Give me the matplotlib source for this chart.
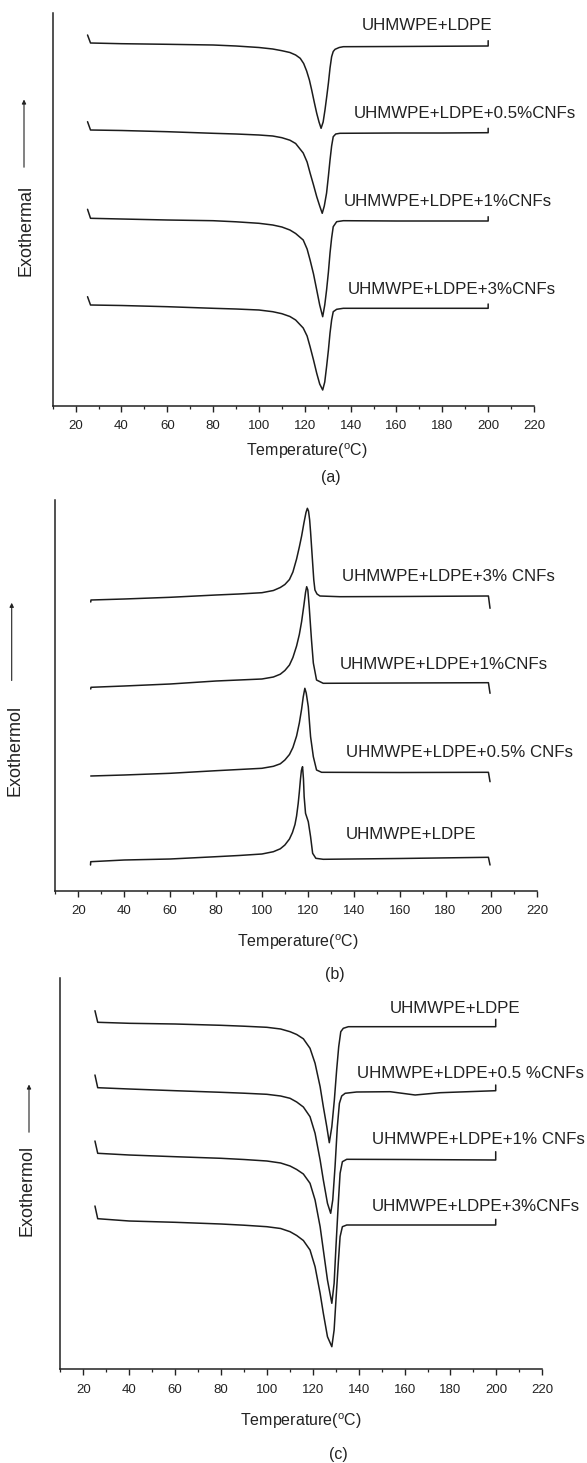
import matplotlib
matplotlib.use("Agg")
import matplotlib.pyplot as plt
from matplotlib.ticker import MultipleLocator
from matplotlib.patches import FancyArrowPatch

plt.rcParams['font.family'] = ['Liberation Sans', 'DejaVu Sans']
plt.rcParams['mathtext.fontset'] = 'custom'
plt.rcParams['mathtext.rm'] = 'Liberation Sans'
plt.rcParams['mathtext.it'] = 'Liberation Sans:italic'

# ---------------- data (temperature in °C, heat flow in arbitrary units) -------------
# Panel (a): heating scans (endotherm down)
a_ldpe_T = [25.2, 26.5, 40, 60, 80, 90, 100, 106, 110, 113.5, 116, 118, 119.5, 120.8, 122, 123, 124.2,
            125.2, 126.2, 127.1, 128, 128.8, 129.6, 130.3, 131, 131.7, 132.4, 133.2, 135, 136.8, 160, 200, 200]
a_ldpe_H = [365, 357, 356.3, 355.7, 355, 354, 352.5, 351, 349.3, 347.5, 345, 341.7, 336.5, 329, 320, 310, 297,
            286.7, 278, 271.7, 278, 290, 304, 317, 332, 343.3, 348.5, 350.7, 352.5, 353.3, 353.5, 354, 359.3]

a_05_T = [25.2, 26.5, 40, 60, 80, 90, 100, 106, 110, 113.5, 116, 119.3, 121, 122.3, 123.8, 125.2, 126.5, 127.6,
          128.5, 129.5, 130.3, 131, 131.7, 132.4, 133.5, 135.3, 160, 180, 200, 200]
a_05_H = [278.3, 270, 269.5, 268.3, 266.7, 266, 265, 264, 262.3, 259.8, 256.5, 247, 238, 227, 215, 203.3, 194,
          186.7, 194, 207, 224, 240, 254, 263.3, 266, 266.7, 267, 267, 267.3, 271.7]

a_1_T = [25.2, 26.5, 40, 60, 80, 90, 100, 106, 110, 113.5, 116, 119.3, 121, 122.3, 123.8, 125.2, 126.5, 127.8,
         128.7, 129.5, 130.3, 131, 131.7, 132.4, 133.9, 136.8, 160, 200, 200]
a_1_H = [190.7, 181.7, 181, 180, 179.3, 178.2, 176.7, 175, 173, 170, 166.5, 160, 151, 140, 126, 110, 95, 83.3,
         95, 110, 128, 147, 162, 173.3, 178.3, 179.3, 179, 179, 183.3]

a_3_T = [25.2, 26.5, 40, 60, 80, 90, 100, 106, 110, 113.5, 116, 119.3, 121, 122.3, 123.8, 125.2, 126.5, 127.8,
         128.7, 129.5, 130.3, 131, 131.7, 132.4, 133.9, 136.8, 160, 200, 200]
a_3_H = [103.3, 95, 94.5, 93.3, 91.7, 91, 90, 88.3, 86.3, 83.5, 80, 72, 64, 53.3, 40, 26.7, 16, 10,
         18, 33.3, 50, 67, 80, 88.3, 90.7, 91.7, 91.7, 91.7, 96]

# Panel (b): cooling scans (exotherm up)
b_3_T = [25.4, 25.5, 40, 60, 80, 90, 100, 105, 108, 110, 112, 113.5, 115.1, 116.3, 117.3, 118.3, 119.2, 119.8,
         120.3, 120.8, 121.2, 122.1, 122.6, 123.1, 124, 125.3, 134, 160, 198.7, 199.4]
b_3_H = [298, 300, 301, 302.7, 305, 306, 307.3, 309.5, 312.5, 315.5, 320.5, 328, 341, 353, 364, 377, 387.5, 391.7,
         389, 380, 368, 337, 320, 310, 306, 304, 303.3, 303.5, 304, 291.7]

b_1_T = [25.4, 25.5, 40, 60, 80, 90, 100, 105, 108, 110, 112, 113.5, 115.1, 116.3, 117.3, 118.3, 119, 119.5,
         120, 120.6, 121.6, 122.4, 123.8, 126.7, 160, 198.7, 199.4]
b_1_H = [211, 212.7, 214, 216, 219, 220, 221, 223, 225.8, 229.5, 235, 242.5, 254, 265.5, 278.5, 295, 307.5, 313.3,
         310, 293.3, 260, 237, 220, 216.7, 217, 217.3, 206.7]

b_05_T = [25.4, 40, 60, 80, 90, 100, 105, 108, 110, 112, 113.5, 115.1, 116.3, 117.3, 118, 118.7, 119.3, 120.2,
          121.2, 122.4, 123.8, 126, 160, 198.7, 199.4]
b_05_H = [124, 125, 126.7, 129.3, 130.5, 131.7, 133.7, 136.2, 140, 145.5, 152.5, 164, 177, 191, 203, 211.7, 207,
          193.3, 163.3, 143.3, 130, 127.7, 127.5, 127.7, 118.3]

b_ldpe_T = [25.3, 25.4, 40, 60, 80, 90, 100, 105, 108, 110, 112, 113.3, 114.4, 115.1, 115.8, 116.3, 116.8, 117.2,
            117.7, 118.1, 118.4, 119, 120.2, 121.2, 122.1, 123.5, 126.7, 160, 198.7, 199.4]
b_ldpe_H = [35, 38.3, 40, 41, 43.3, 44.5, 46, 48.3, 51.2, 55, 61, 67.5, 75.5, 84, 96.5, 108, 121, 129.5,
            133.3, 121, 103.3, 86.7, 78.3, 63.3, 46.7, 41.7, 40.7, 41.5, 42.7, 35]

# Panel (c): second heating scans (endotherm down)
c_ldpe_T = [25.1, 26.3, 40, 60, 80, 90, 100, 106, 110.1, 113, 115.9, 118.8, 121, 123.2, 124.6, 126.1, 127.2, 128.3,
            129.4, 130.4, 131.3, 132.2, 133.3, 135.5, 160, 199.7, 199.7]
c_ldpe_H = [359.3, 347.7, 346.7, 346, 344.7, 343.8, 342.7, 341, 338.3, 335.5, 331.2, 321.7, 306.7, 283.3, 263.3,
            243.3, 227.3, 243.3, 270, 300, 323.3, 338.3, 341.7, 343.3, 343.3, 343.3, 350.7]

c_05_T = [25.1, 26.3, 40, 60, 80, 90, 100, 106, 110.1, 113, 115.9, 118.8, 121, 123.2, 124.6, 126.4, 127.8, 128.7,
          129.7, 130.7, 131.6, 132.6, 134.1, 139.1, 153.7, 164.6, 175.5, 199.7, 199.7]
c_05_H = [295, 282.3, 281, 279.3, 277.7, 276.8, 275.7, 274, 271.7, 268, 263, 253.3, 236.7, 210, 190, 166.7, 156.7,
          170, 203.3, 243.3, 266.7, 274, 276.7, 278, 278.3, 275, 277.3, 279.3, 285]

c_1_T = [25.1, 26.3, 40, 60, 80, 90, 100, 106, 110.1, 113, 115.9, 118.8, 121, 123.2, 124.6, 126.4, 128.3, 129.3,
         130.1, 131.2, 131.9, 132.9, 134.8, 160, 199.7, 199.7]
c_1_H = [229, 216.7, 215, 213.3, 211.7, 210.5, 209, 207, 204, 200.5, 196, 186.7, 170, 143.3, 120, 90, 66.7, 86.7,
         123.3, 170, 196.7, 208.3, 210.7, 210.5, 210, 218.3]

c_3_T = [25.1, 26.3, 40, 60, 80, 90, 100, 106, 110.1, 113, 115.9, 118.8, 121, 123.2, 124.6, 126.4, 128.3, 129.3,
         130.1, 131.2, 131.9, 132.9, 134.8, 160, 199.7, 199.7]
c_3_H = [164, 151.3, 149, 147.7, 146, 144.8, 143.3, 141.5, 138.3, 134.5, 129.5, 120, 103.3, 76.7, 56.7, 33.3, 23.3,
         40, 70, 110, 133.3, 143.3, 145, 145, 145, 150.7]

x_ticks = [20, 40, 60, 80, 100, 120, 140, 160, 180, 200, 220]

a_labels = ['UHMWPE+LDPE', 'UHMWPE+LDPE+0.5%CNFs', 'UHMWPE+LDPE+1%CNFs', 'UHMWPE+LDPE+3%CNFs']
b_labels = ['UHMWPE+LDPE+3% CNFs', 'UHMWPE+LDPE+1%CNFs', 'UHMWPE+LDPE+0.5% CNFs', 'UHMWPE+LDPE']
c_labels = ['UHMWPE+LDPE', 'UHMWPE+LDPE+0.5 %CNFs', 'UHMWPE+LDPE+1% CNFs', 'UHMWPE+LDPE+3%CNFs']

# ---------------- figure ------------------
W, H = 587, 1463
fig = plt.figure(figsize=(W / 100, H / 100), dpi=100)


def fx(px):
    return px / W


def fy(py):
    return 1 - py / H


LINE = '#1c1c1c'
TXT = '#222222'


def make_axes(l, b, r, t, ylim):
    ax = fig.add_axes([fx(l), fy(b), (r - l) / W, (b - t) / H])
    ax.set_xlim(10, 220)
    ax.set_ylim(*ylim)
    for s in ('top', 'right'):
        ax.spines[s].set_visible(False)
    for s in ('left', 'bottom'):
        ax.spines[s].set_linewidth(1.1)
        ax.spines[s].set_color(TXT)
    ax.set_yticks([])
    ax.set_xticks(x_ticks)
    ax.xaxis.set_minor_locator(MultipleLocator(10))
    ax.tick_params(axis='x', which='major', length=4, width=1.0, pad=6.5,
                   labelsize=9.5, colors=TXT, direction='out')
    ax.tick_params(axis='x', which='minor', length=2, width=0.9, direction='out', colors=TXT)
    return ax


def curves(ax, series, labels, label_pos):
    for (T, Hf) in series:
        ax.plot(T, Hf, color=LINE, lw=1.1, solid_joinstyle='round', solid_capstyle='round')
    for lab, (tx, ty) in zip(labels, label_pos):
        ax.text(tx, ty, lab, fontsize=12.2, ha='left', va='center', color=TXT, clip_on=False)


def ylabel(text, x, yc, arrow_x, head_y, tail_y):
    fig.text(fx(x), fy(yc), text, rotation=90, ha='center', va='center', fontsize=13, color=TXT)
    fig.add_artist(FancyArrowPatch(
        (fx(arrow_x), fy(tail_y)), (fx(arrow_x), fy(head_y)), transform=fig.transFigure,
        arrowstyle='-|>', mutation_scale=6, lw=0.8, color=TXT))


def xlabel(xc, yc):
    fig.text(fx(xc), fy(yc), r'Temperature($\mathregular{^o}$C)', ha='center', va='center',
             fontsize=11.5, color=TXT)


# Panel (a)
axA = make_axes(52.7, 405.7, 534.0, 13.3, (-5.7, 386.7))
curves(axA, [(a_ldpe_T, a_ldpe_H), (a_05_T, a_05_H), (a_1_T, a_1_H), (a_3_T, a_3_H)], a_labels,
       [(144.8, 374), (141.5, 286.7), (137.2, 198.3), (138.7, 110)])
ylabel('Exothermal', 26, 230, 24, 96.7, 170)
xlabel(306.7, 451)
fig.text(fx(331), fy(477), '(a)', ha='center', va='center', fontsize=11.5, color=TXT)

# Panel (b)
axB = make_axes(55.4, 890.7, 537.3, 500, (9.3, 400))
curves(axB, [(b_3_T, b_3_H), (b_1_T, b_1_H), (b_05_T, b_05_H), (b_ldpe_T, b_ldpe_H)], b_labels,
       [(134.8, 323.3), (134.1, 235), (136.7, 147.3), (136.7, 65)])
ylabel('Exothermol', 15, 750, 11.7, 600, 683.3)
xlabel(297.5, 942)
fig.text(fx(335), fy(975), '(b)', ha='center', va='center', fontsize=11.5, color=TXT)

# Panel (c)
axC = make_axes(60.3, 1369.3, 542.3, 978.3, (0.7, 391.7))
curves(axC, [(c_ldpe_T, c_ldpe_H), (c_05_T, c_05_H), (c_1_T, c_1_H), (c_3_T, c_3_H)], c_labels,
       [(153.7, 361.7), (139.4, 296.7), (145.7, 230), (145.7, 163.3)])
ylabel('Exothermol', 26.7, 1190, 29, 1081.7, 1135)
xlabel(301.3, 1421)
fig.text(fx(338), fy(1455), '(c)', ha='center', va='center', fontsize=11.5, color=TXT)

fig.savefig('out.png', dpi=100, facecolor='white')
